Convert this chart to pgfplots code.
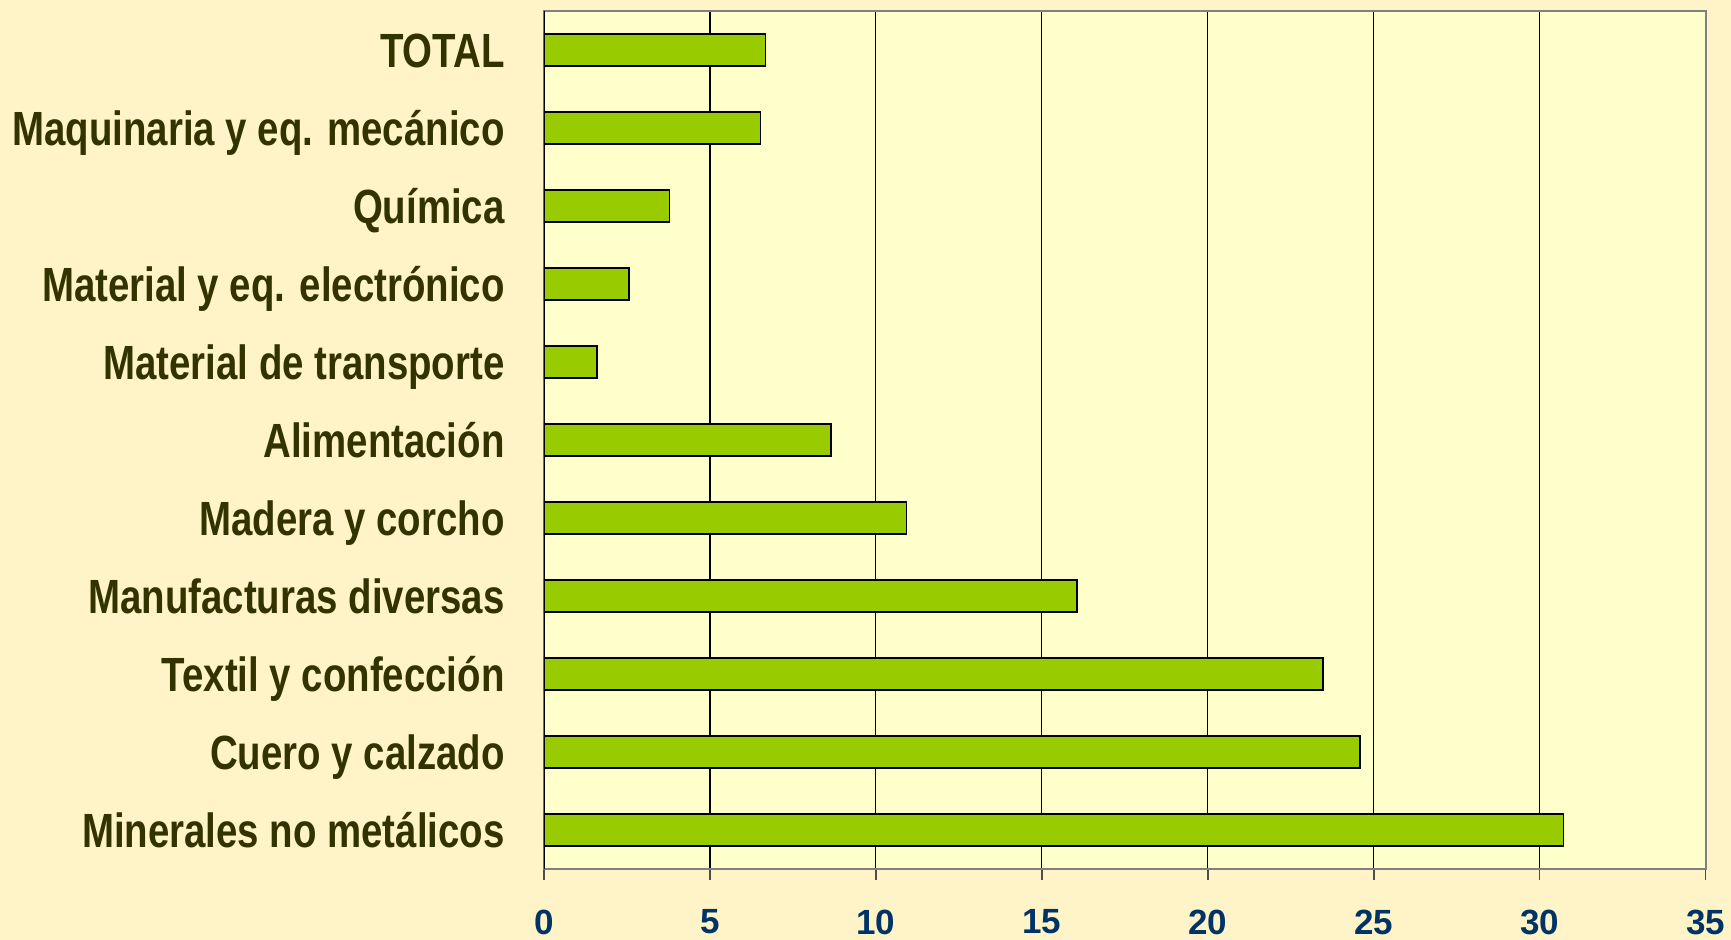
\documentclass[border=0pt]{standalone}
\usepackage{fontspec}
\setmainfont{Liberation Sans}
\newfontfamily\labfont{Liberation Sans}[FakeStretch=0.8]
\usepackage{pgfplots}
\pgfplotsset{compat=1.18}
\definecolor{outerbg}{HTML}{FFF4C8}
\definecolor{plotbg}{HTML}{FFFFCC}
\definecolor{barfill}{HTML}{99CC00}
\definecolor{labcol}{HTML}{333300}
\definecolor{tickcol}{HTML}{003366}
\begin{document}
\begin{tikzpicture}
\fill[outerbg] (-272pt,-35.5pt) rectangle (593.5pt,434.5pt);
\begin{axis}[
  at={(0,0)}, anchor=south west,
  scale only axis, width=580.8pt, height=429pt,
  xbar, bar width=16pt,
  xmin=0, xmax=35, ymin=-0.5, ymax=10.5,
  xtick={0,5,...,35},
  ytick={0,...,10},
  yticklabels={Minerales no metálicos,Cuero y calzado,Textil y confección,Manufacturas diversas,Madera y corcho,Alimentación,Material de transporte,Material y eq. electrónico,Química,Maquinaria y eq. mecánico,TOTAL},
  minor ytick={-0.5,0.5,...,10.5},
  tick align=outside,
  xtick pos=bottom, ytick pos=left,
  major tick length=5.75pt, minor tick length=7.8pt,
  ytick style={draw=none},
  minor y tick style={black, line width=0.6pt},
  xtick style={gray!60!black, line width=0.8pt},
  xmajorgrids, major grid style={black, line width=0.6pt},
  axis background/.style={fill=plotbg},
  axis line style={gray, line width=1pt},
  /pgf/number format/assume math mode=true,
  xticklabel style={font=\fontsize{17.5}{20}\selectfont\bfseries, text=tickcol, inner sep=0pt, yshift=-14.5pt},
  yticklabel style={font=\labfont\bfseries\fontsize{24}{28}\selectfont, text=labcol, inner sep=0pt, anchor=east, text height=17.2pt, text depth=0pt, xshift=-13.75pt},
]
\addplot[fill=barfill, draw=black, line width=0.7pt] coordinates {
  (30.72,0) (24.59,1) (23.47,2) (16.06,3) (10.92,4) (8.65,5)
  (1.60,6) (2.56,7) (3.78,8) (6.52,9) (6.68,10)
};
\draw[black, line width=0.7pt] (rel axis cs:0,0) -- (rel axis cs:0,1);
\end{axis}
\pgfresetboundingbox
\path (-272pt,-35.5pt) rectangle (593.5pt,434.5pt);
\end{tikzpicture}
\end{document}
